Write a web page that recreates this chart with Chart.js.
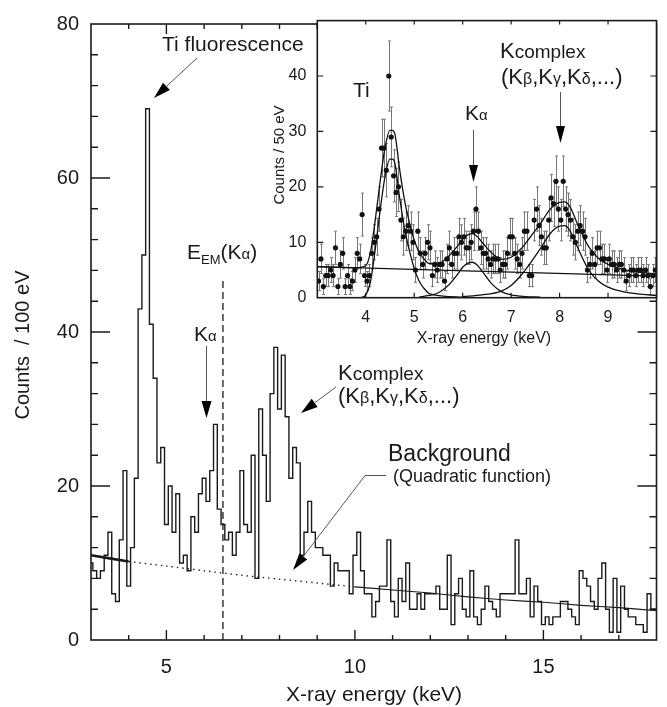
<!DOCTYPE html>
<html>
<head>
<meta charset="utf-8">
<script src="https://cdn.jsdelivr.net/npm/chart.js@4.4.1/dist/chart.umd.min.js"></script>
<style>
  html, body { margin: 0; padding: 0; background: #fff; }
  #wrap { position: relative; width: 667px; height: 707px; }
  #main { position: absolute; left: 0; top: 0; }
  #inset { position: absolute; left: 250px; top: 0; }
</style>
</head>
<body>
<div id="wrap">
  <canvas id="main" width="667" height="707"></canvas>
  <canvas id="inset" width="417" height="360"></canvas>
</div>
<script>
/* X-ray spectrum: 100 eV histogram with a 50 eV inset fit */
const FONT = '"Liberation Sans", Arial, Helvetica, sans-serif';
const INK = '#1a1a1a';

// ---- main spectrum (counts / 100 eV) ----
const binStart = 3.05;          // keV, left edge of first full bin
const binWidth = 0.1;           // keV
const firstPartialCount = 10;   // the clipped half bin at 3.00 keV
const counts100 = [
  9, 8, 9, 11, 14, 6, 5, 13, 22, 7,
  12, 21, 43, 50, 69, 41, 34, 23, 25, 15,
  20, 14, 19, 10, 11, 9, 16, 14, 19, 21,
  18, 22, 28, 17, 15, 13, 14, 11, 14, 22,
  15, 14, 24, 8, 30, 24, 18, 32, 38, 30,
  37, 29, 21, 25, 23, 11, 14, 18, 14, 12,
  12, 11, 11, 7, 10, 9, 9, 9, 6, 11,
  14, 9, 6, 6, 3, 5, 7, 7, 13, 5,
  3, 8, 5, 10, 4, 4, 6, 4, 6, 6,
  6, 7, 4, 4, 11, 2, 6, 8, 4, 3,
  9, 3, 2, 4, 7, 5, 4, 3, 6, 6,
  6, 6, 13, 6, 6, 8, 3, 7, 5, 2,
  3, 2, 3, 3, 5, 5, 4, 3, 2, 9,
  8, 7, 5, 4, 8, 10, 4, 1, 8, 1,
  7, 4, 3, 3, 2, 2, 1, 6, 4, 4
];

// quadratic background
const bgEnergy = [3, 4, 5, 6, 7, 8, 9, 10, 11, 12, 13, 14, 15, 16, 17, 18];
const bgCounts = [11.0, 10.2, 9.6, 9.0, 8.4, 7.9, 7.4, 6.9, 6.5, 6.1, 5.6, 5.2, 4.9, 4.5, 4.2, 3.8];

const emEnergy = 6.5;   // E_EM(K alpha)
const emTop = 47;

// ---- inset (counts / 50 eV) ----
const insetStart = 3.025;
const insetStep = 0.05;
const counts50 = [
  3, 7, 2, 4, 4, 5, 4, 9, 2, 6,
  8, 2, 4, 2, 3, 5, 8, 7, 15, 4,
  3, 4, 8, 10, 11, 16, 27, 27, 23, 40,
  29, 22, 19, 20, 14, 11, 12, 13, 12, 10,
  5, 12, 8, 6, 8, 10, 9, 4, 6, 5,
  6, 6, 3, 7, 9, 6, 8, 8, 11, 10,
  11, 9, 9, 10, 12, 16, 12, 9, 8, 8,
  7, 6, 7, 7, 7, 5, 6, 6, 8, 11,
  11, 8, 7, 6, 8, 12, 12, 4, 4, 14,
  16, 13, 11, 9, 9, 14, 18, 17, 21, 16,
  14, 21, 16, 15, 14, 11, 10, 12, 13, 12,
  11, 5, 6, 8, 6, 9, 9, 7, 7, 5,
  7, 6, 6, 5, 6, 6, 5, 3, 4, 5,
  5, 4, 5, 5, 4, 5, 4, 2, 4, 5
];

const fitTotalX = [3.0, 3.8, 4.0, 4.1, 4.2, 4.3, 4.4, 4.5, 4.55, 4.6, 4.7, 4.8, 4.9, 5.0, 5.1,
  5.2, 5.3, 5.5, 5.7, 5.9, 6.0, 6.1, 6.2, 6.3, 6.4, 6.5, 6.6, 6.8, 7.0, 7.2, 7.4, 7.6, 7.8,
  8.0, 8.1, 8.2, 8.4, 8.6, 8.8, 9.0, 9.3, 9.6, 10.0];
const fitTotalY = [5.6, 5.4, 5.8, 8.3, 14.3, 21.2, 27.2, 30.2, 30.2, 29.6, 23.1, 17.6, 13.6, 10.4, 8.2,
  7.0, 6.2, 6.2, 7.4, 9.4, 10.6, 11.3, 11.55, 11.05, 10.0, 9.0, 8.05, 6.9, 7.3, 8.8, 11.0, 13.3, 15.9,
  17.2, 17.3, 16.6, 12.7, 9.2, 7.1, 6.0, 5.1, 4.65, 4.3];
const fitTiX = [3.9, 4.0, 4.1, 4.2, 4.3, 4.4, 4.5, 4.55, 4.6, 4.7, 4.8, 4.9, 5.0, 5.1, 5.2, 5.3, 5.4, 5.6, 6.0];
const fitTiY = [0, 0.5, 3, 9, 16, 22, 25, 25, 24.3, 18, 12.5, 8.5, 5.3, 3, 1.7, 0.8, 0.5, 0.3, 0.1];
const fitKaX = [5.1, 5.3, 5.5, 5.7, 5.9, 6.0, 6.1, 6.2, 6.3, 6.4, 6.5, 6.6, 6.8, 7.0, 7.3, 7.6];
const fitKaY = [0.1, 0.4, 0.9, 2.2, 4.3, 5.5, 6.2, 6.4, 5.9, 4.8, 3.6, 2.5, 1.1, 0.5, 0.2, 0.1];
const fitKcX = [6.0, 6.4, 6.8, 7.0, 7.2, 7.4, 7.6, 7.8, 8.0, 8.1, 8.2, 8.4, 8.6, 8.8, 9.0, 9.3, 9.6, 10.0];
const fitKcY = [0.2, 0.5, 1.2, 2.2, 4.0, 6.3, 8.8, 11.5, 12.9, 13, 12.3, 8.5, 5, 3, 1.9, 1.1, 0.7, 0.4];
const fitBgX = [3, 10];
const fitBgY = [5.6, 3.9];

// ---------- helpers ----------
const zip = (xs, ys) => xs.map((x, i) => ({ x, y: ys[i] }));

function richText(ctx, x, y, parts) {
  let cx = x;
  parts.forEach(([t, size, dy]) => {
    ctx.font = `${size}px ${FONT}`;
    ctx.fillText(t, cx, y + (dy || 0));
    cx += ctx.measureText(t).width;
  });
}

function arrow(ctx, x1, y1, x2, y2, headLen = 17, headW = 10) {
  const ang = Math.atan2(y2 - y1, x2 - x1);
  const bx = x2 - headLen * Math.cos(ang), by = y2 - headLen * Math.sin(ang);
  ctx.save();
  ctx.strokeStyle = '#555'; ctx.lineWidth = 1;
  ctx.beginPath(); ctx.moveTo(x1, y1); ctx.lineTo(bx, by); ctx.stroke();
  ctx.fillStyle = '#000';
  ctx.beginPath();
  ctx.moveTo(x2, y2);
  ctx.lineTo(bx + (headW / 2) * Math.sin(ang), by - (headW / 2) * Math.cos(ang));
  ctx.lineTo(bx - (headW / 2) * Math.sin(ang), by + (headW / 2) * Math.cos(ang));
  ctx.closePath(); ctx.fill();
  ctx.restore();
}

function drawFrame(chart, cfg) {
  const { ctx, chartArea: a, scales: { x, y } } = chart;
  ctx.save();
  ctx.strokeStyle = INK;
  ctx.lineWidth = cfg.tickWidth;
  ctx.beginPath();
  cfg.xTicks.forEach(([v, len, topLen]) => {
    const px = x.getPixelForValue(v);
    ctx.moveTo(px, a.bottom); ctx.lineTo(px, a.bottom - len);
    if (topLen) { ctx.moveTo(px, a.top); ctx.lineTo(px, a.top + topLen); }
  });
  cfg.yTicks.forEach(([v, len]) => {
    const py = y.getPixelForValue(v);
    ctx.moveTo(a.left, py); ctx.lineTo(a.left + len, py);
    ctx.moveTo(a.right, py); ctx.lineTo(a.right - len, py);
  });
  ctx.stroke();
  ctx.lineWidth = cfg.frameWidth;
  ctx.strokeRect(a.left, a.top, a.right - a.left, a.bottom - a.top);
  ctx.restore();
}

// ---------- main chart ----------
const histPts = [{ x: 3.0, y: firstPartialCount }];
counts100.forEach((c, i) => histPts.push({ x: binStart + i * binWidth, y: c }));
histPts.push({ x: binStart + counts100.length * binWidth, y: counts100[counts100.length - 1] });

const bgPts = zip(bgEnergy, bgCounts);
const mainTicksX = [];
for (let v = 4; v <= 17; v++) mainTicksX.push([v, v % 5 === 0 ? 10 : 5, v % 5 === 0 ? 10 : 5]);
const mainTicksY = [];
for (let v = 4; v <= 76; v += 4) mainTicksY.push([v, v % 20 === 0 ? 19 : 7]);

const mainDecor = {
  id: 'mainDecor',
  afterDraw(chart) {
    const ctx = chart.ctx;
    drawFrame(chart, { frameWidth: 1.6, tickWidth: 1.4, xTicks: mainTicksX, yTicks: mainTicksY });
    ctx.save();
    ctx.fillStyle = INK;
    ctx.textBaseline = 'alphabetic';
    // axis titles
    ctx.font = `21px ${FONT}`;
    ctx.textAlign = 'center';
    ctx.fillText('X-ray energy (keV)', 374, 701);
    ctx.save();
    ctx.translate(29, 345); ctx.rotate(-Math.PI / 2);
    ctx.font = `20px ${FONT}`;
    ctx.fillText('Counts  / 100 eV', 0, 0);
    ctx.restore();
    ctx.textAlign = 'left';
    // annotations
    richText(ctx, 162, 51, [['Ti fluorescence', 21]]);
    arrow(ctx, 197, 58, 154, 98);
    richText(ctx, 187, 259, [['E', 21], ['EM', 13, 5], ['(K', 21], ['\u03b1', 15], [')', 21]]);
    richText(ctx, 194, 341, [['K', 21], ['\u03b1', 15]]);
    arrow(ctx, 206.5, 346, 206.5, 418);
    richText(ctx, 338, 380, [['K', 22], ['complex', 19]]);
    richText(ctx, 338, 403, [['(K', 22], ['\u03b2', 16], [',K', 22], ['\u03b3', 16], [',K', 22], ['\u03b4', 16], [',...)', 22]]);
    arrow(ctx, 336, 387, 301, 413);
    richText(ctx, 388, 461, [['Background', 23]]);
    richText(ctx, 393, 482, [['(Quadratic function)', 18]]);
    ctx.strokeStyle = '#555'; ctx.lineWidth = 1;
    ctx.beginPath(); ctx.moveTo(365, 475.5); ctx.lineTo(386, 475.5); ctx.stroke();
    arrow(ctx, 365, 475.5, 293, 570);
    ctx.restore();
  }
};

new Chart(document.getElementById('main'), {
  type: 'line',
  data: {
    datasets: [
      { data: histPts, stepped: true, borderColor: INK, borderWidth: 1.4, pointRadius: 0 },
      { data: bgPts.filter(p => p.x <= 4), borderColor: INK, borderWidth: 2.6, pointRadius: 0, tension: 0.3 },
      { data: bgPts.filter(p => p.x >= 4 && p.x <= 10), borderColor: INK, borderWidth: 1.4, borderDash: [1.4, 4], pointRadius: 0, tension: 0.3 },
      { data: bgPts.filter(p => p.x >= 10), borderColor: INK, borderWidth: 1.1, pointRadius: 0, tension: 0.3 },
      { data: [{ x: emEnergy, y: 0 }, { x: emEnergy, y: emTop }], borderColor: INK, borderWidth: 1.3, borderDash: [7, 4], pointRadius: 0 }
    ]
  },
  options: {
    responsive: false, animation: false, devicePixelRatio: 1,
    layout: { padding: { left: 0, right: 10.5, top: 21.5, bottom: 0 } },
    plugins: { legend: { display: false }, tooltip: { enabled: false } },
    scales: {
      x: {
        type: 'linear', min: 3, max: 18,
        grid: { display: false, drawTicks: false }, border: { display: false },
        afterBuildTicks: s => { s.ticks = [5, 10, 15].map(v => ({ value: v })); },
        afterFit: s => { s.height = 67; },
        ticks: { color: INK, font: { family: FONT, size: 20 }, padding: 15, maxRotation: 0 }
      },
      y: {
        min: 0, max: 80,
        grid: { display: false, drawTicks: false }, border: { display: false },
        afterBuildTicks: s => { s.ticks = [0, 20, 40, 60, 80].map(v => ({ value: v })); },
        afterFit: s => { s.width = 91; },
        ticks: { color: INK, font: { family: FONT, size: 20 }, padding: 12 }
      }
    }
  },
  plugins: [mainDecor]
});

// ---------- inset chart ----------
const OX = 250, OY = 0;  // inset canvas offset on the page
const insetPts = counts50.map((c, k) => ({ x: insetStart + k * insetStep, y: c }));
const insetTicksX = [4, 5, 6, 7, 8, 9].map(v => [v, 5, 4]);
const insetTicksY = [10, 20, 30, 40].map(v => [v, 6]);

const insetDecor = {
  id: 'insetDecor',
  beforeDraw(chart) {
    const { ctx, chartArea: a } = chart;
    ctx.save(); ctx.fillStyle = '#fff';
    ctx.fillRect(a.left, a.top, a.right - a.left, a.bottom - a.top);
    ctx.restore();
  },
  beforeDatasetsDraw(chart) {
    const { ctx, chartArea: a, scales: { x, y } } = chart;
    ctx.save();
    ctx.beginPath(); ctx.rect(a.left, a.top, a.right - a.left, a.bottom - a.top); ctx.clip();
    ctx.strokeStyle = '#777'; ctx.lineWidth = 1;
    ctx.beginPath();
    insetPts.forEach(p => {
      const e = Math.sqrt(p.y);
      const px = Math.round(x.getPixelForValue(p.x)) + 0.5;
      const top = y.getPixelForValue(p.y + e), bot = y.getPixelForValue(Math.max(0, p.y - e));
      ctx.moveTo(px, top); ctx.lineTo(px, bot);
      ctx.moveTo(px - 1.5, top); ctx.lineTo(px + 1.5, top);
      ctx.moveTo(px - 1.5, bot); ctx.lineTo(px + 1.5, bot);
    });
    ctx.stroke();
    ctx.restore();
  },
  afterDraw(chart) {
    const ctx = chart.ctx;
    drawFrame(chart, { frameWidth: 1.6, tickWidth: 1.2, xTicks: insetTicksX, yTicks: insetTicksY });
    ctx.save();
    ctx.translate(-OX, -OY);
    ctx.fillStyle = INK;
    ctx.textAlign = 'center';
    ctx.font = `16px ${FONT}`;
    ctx.fillText('X-ray energy (keV)', 484, 343);
    ctx.save();
    ctx.translate(284, 155); ctx.rotate(-Math.PI / 2);
    ctx.font = `15px ${FONT}`;
    ctx.fillText('Counts / 50 eV', 0, 0);
    ctx.restore();
    ctx.textAlign = 'left';
    richText(ctx, 353, 97, [['Ti', 21]]);
    richText(ctx, 465, 120, [['K', 21], ['\u03b1', 15]]);
    arrow(ctx, 473.5, 130, 473.5, 182, 17, 9);
    richText(ctx, 500, 58, [['K', 22], ['complex', 19]]);
    richText(ctx, 501, 84, [['(K', 22], ['\u03b2', 16], [',K', 22], ['\u03b3', 16], [',K', 22], ['\u03b4', 16], [',...)', 22]]);
    arrow(ctx, 560.5, 92, 560.5, 143, 17, 9);
    ctx.restore();
  }
};

const curve = (xs, ys) => ({
  type: 'line', data: zip(xs, ys), borderColor: '#111', borderWidth: 1.3,
  pointRadius: 0, cubicInterpolationMode: 'monotone'
});

new Chart(document.getElementById('inset'), {
  type: 'scatter',
  data: {
    datasets: [
      curve(fitBgX, fitBgY),
      curve(fitTiX, fitTiY),
      curve(fitKaX, fitKaY),
      curve(fitKcX, fitKcY),
      curve(fitTotalX, fitTotalY),
      { type: 'scatter', data: insetPts, pointRadius: 2.6, pointBackgroundColor: '#111', pointBorderWidth: 0, showLine: false }
    ]
  },
  options: {
    responsive: false, animation: false, devicePixelRatio: 1,
    layout: { padding: { left: 0, right: 10.5, top: 20, bottom: 0 } },
    plugins: { legend: { display: false }, tooltip: { enabled: false } },
    scales: {
      x: {
        type: 'linear', min: 3, max: 10,
        grid: { display: false, drawTicks: false }, border: { display: false },
        afterBuildTicks: s => { s.ticks = [4, 5, 6, 7, 8, 9].map(v => ({ value: v })); },
        afterFit: s => { s.height = 62.3; },
        ticks: { color: INK, font: { family: FONT, size: 16 }, padding: 10, maxRotation: 0 }
      },
      y: {
        min: 0, max: 50,
        grid: { display: false, drawTicks: false }, border: { display: false },
        afterBuildTicks: s => { s.ticks = [0, 10, 20, 30, 40].map(v => ({ value: v })); },
        afterFit: s => { s.width = 67.3; },
        ticks: { color: INK, font: { family: FONT, size: 16 }, padding: 11 }
      }
    }
  },
  plugins: [insetDecor]
});
</script>
</body>
</html>
